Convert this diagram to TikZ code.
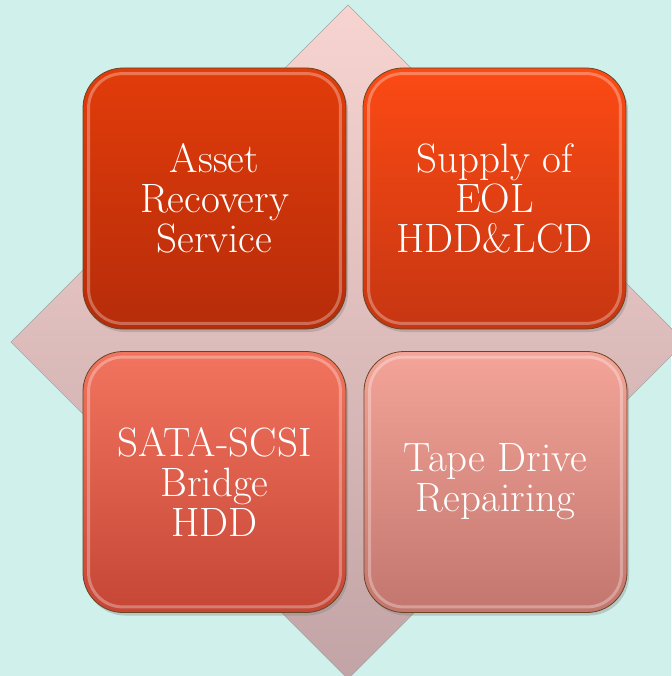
\documentclass[tikz,border=0pt]{standalone}
\usetikzlibrary{shadows}

\definecolor{bgcyan}{RGB}{208,240,236}
\definecolor{diatop}{RGB}{247,212,208}
\definecolor{diabot}{RGB}{194,164,166}
\definecolor{tltop}{RGB}{226,60,10}
\definecolor{tlbot}{RGB}{182,44,10}
\definecolor{trtop}{RGB}{252,74,20}
\definecolor{trbot}{RGB}{198,54,18}
\definecolor{bltop}{RGB}{242,116,94}
\definecolor{blbot}{RGB}{198,70,54}
\definecolor{brtop}{RGB}{244,164,152}
\definecolor{brbot}{RGB}{194,118,110}

\tikzset{
  tile/.style={rounded corners=40pt, minimum width=263pt, minimum height=261pt,
    draw=black!45!brown, line width=.8pt, text=white, align=center,
    font=\fontsize{41}{40}\selectfont, drop shadow={shadow xshift=2pt, shadow yshift=-3pt, opacity=.35}},
  bevel/.style={draw=white, opacity=.3, line width=3pt, rounded corners=34pt}
}

\begin{document}
\begin{tikzpicture}[x=1pt,y=-1pt]

      \fill[bgcyan] (0,0) rectangle (671,676);
      \useasboundingbox (0,0) rectangle (671,676);

      % diamond behind the tiles
      \shade[top color=diatop, bottom color=diabot, draw=black!35]
        (348,5) -- (685,342) -- (348,679) -- (11,342) -- cycle;

      \begin{scope}[every node/.style={tile}]
        \node[top color=tltop, bottom color=tlbot] (asset)  at (214.5,198.5) {Asset\\Recovery\\Service};
        \node[top color=trtop, bottom color=trbot] (supply) at (494.5,198.5) {Supply of\\EOL\\HDD\&LCD};
        \node[top color=bltop, bottom color=blbot] (bridge) at (214.5,482)   {SATA-SCSI\\Bridge\\HDD};
        \node[top color=brtop, bottom color=brbot] (tape)   at (495.5,482)   {Tape Drive\\Repairing};
      \end{scope}

      % light edge inside each tile
      \draw[bevel] ([shift={(6,6)}]asset.north west)  rectangle ([shift={(-6,-6)}]asset.south east);
      \draw[bevel] ([shift={(6,6)}]supply.north west) rectangle ([shift={(-6,-6)}]supply.south east);
      \draw[bevel] ([shift={(6,6)}]bridge.north west) rectangle ([shift={(-6,-6)}]bridge.south east);
      \draw[bevel] ([shift={(6,6)}]tape.north west)   rectangle ([shift={(-6,-6)}]tape.south east);

    \end{tikzpicture}
\end{document}
